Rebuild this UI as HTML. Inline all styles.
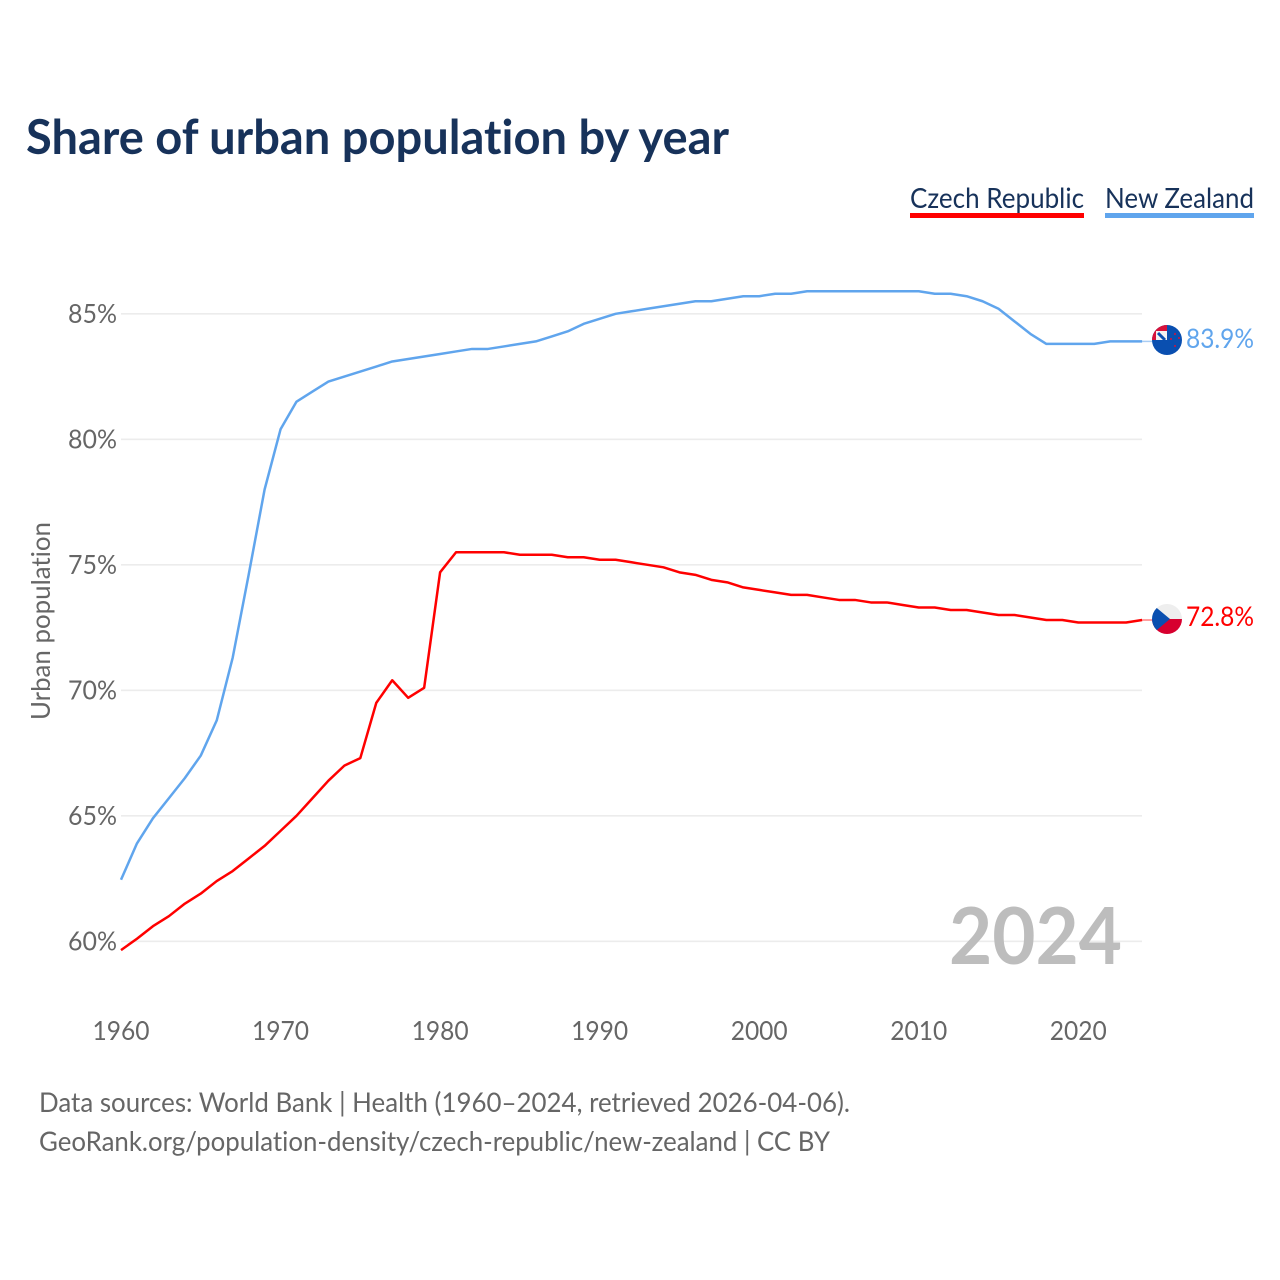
<!DOCTYPE html>
<html lang="en">
<head>
<meta charset="utf-8">
<title>Share of urban population by year</title>
<style>
html,body{margin:0;padding:0;background:#fff;width:1280px;height:1280px;overflow:hidden}
svg{display:block}
text{font-family:"Lato","Carlito","Liberation Sans",sans-serif;font-variant-ligatures:none;font-feature-settings:"liga" 0,"clig" 0}
</style>
</head>
<body>
<svg id="chart" xmlns="http://www.w3.org/2000/svg" width="1280" height="1280" viewBox="0 0 1280 1280">
  <defs>
    <clipPath id="flag-clip-nz"><circle cx="1167" cy="340" r="15"/></clipPath>
    <clipPath id="flag-clip-cz"><circle cx="1167" cy="619" r="15"/></clipPath>
  </defs>
  <rect width="1280" height="1280" fill="#fff"/>
  <text x="26" y="154" font-size="47.5" font-weight="700" fill="#17325a" textLength="703" lengthAdjust="spacingAndGlyphs">Share of urban population by year</text>

  <g>
    <text x="910" y="208" font-size="28" fill="#17325a" textLength="174" lengthAdjust="spacingAndGlyphs">Czech Republic</text>
    <rect x="910" y="213" width="174" height="5" fill="#ff0000"/>
  </g>
  <g>
    <text x="1105" y="208" font-size="28" fill="#17325a" textLength="149" lengthAdjust="spacingAndGlyphs">New Zealand</text>
    <rect x="1105" y="213" width="149" height="5" fill="#60a5ed"/>
  </g>

  <g id="grid"></g>
  <g id="y-ticks"></g>
  <g id="x-ticks"></g>
  <text transform="translate(50,621) rotate(-90)" text-anchor="middle" font-size="26" fill="#666" textLength="198" lengthAdjust="spacingAndGlyphs">Urban population</text>

  <text x="949" y="964" font-size="78.5" font-weight="700" fill="#bdbdbd" textLength="173" lengthAdjust="spacingAndGlyphs">2024</text>

  <g id="series"></g>

  <g clip-path="url(#flag-clip-nz)">
    <rect x="1152" y="325" width="30" height="30" fill="#0a4fb0"/>
    <rect x="1152" y="325" width="15" height="15" fill="#d8123a"/>
    <rect x="1156" y="331" width="11" height="9" fill="#f2f2f2"/>
    <path d="M1158 333 L1165 340" stroke="#0a4fb0" stroke-width="3"/>
    <circle cx="1171" cy="339" r="1" fill="#d8123a"/>
    <circle cx="1175" cy="334" r="1" fill="#d8123a"/>
    <circle cx="1179" cy="338" r="1" fill="#d8123a"/>
    <circle cx="1175" cy="346" r="1" fill="#d8123a"/>
  </g>
  <g clip-path="url(#flag-clip-cz)">
    <rect x="1152" y="604" width="30" height="15" fill="#eeeeee"/>
    <rect x="1152" y="619" width="30" height="15" fill="#d7002f"/>
    <path d="M1152 604 L1170 619 L1152 634 Z" fill="#0a4fb0"/>
  </g>

  <text id="label-nz" x="1186" y="348" font-size="27" fill="#60a5ed" textLength="68" lengthAdjust="spacingAndGlyphs"></text>
  <text id="label-cz" x="1186" y="626" font-size="27" fill="#ff0000" textLength="68" lengthAdjust="spacingAndGlyphs"></text>

  <text x="39" y="1112" font-size="27" fill="#666" textLength="811" lengthAdjust="spacingAndGlyphs">Data sources: World Bank | Health (1960–2024, retrieved 2026-04-06).</text>
  <text x="39" y="1151" font-size="27" fill="#666" textLength="791" lengthAdjust="spacingAndGlyphs">GeoRank.org/population-density/czech-republic/new-zealand | CC BY</text>
</svg>
<script>
const startYear = 1960;
const yTicks = [60, 65, 70, 75, 80, 85];
const xTicks = [1960, 1970, 1980, 1990, 2000, 2010, 2020];
const newZealand = [62.45,63.9,64.9,65.7,66.5,67.4,68.8,71.3,74.6,78.0,80.4,81.5,81.9,82.3,82.5,82.7,82.9,83.1,83.2,83.3,83.4,83.5,83.6,83.6,83.7,83.8,83.9,84.1,84.3,84.6,84.8,85.0,85.1,85.2,85.3,85.4,85.5,85.5,85.6,85.7,85.7,85.8,85.8,85.9,85.9,85.9,85.9,85.9,85.9,85.9,85.9,85.8,85.8,85.7,85.5,85.2,84.7,84.2,83.8,83.8,83.8,83.8,83.9,83.9,83.9];
const czechRepublic = [59.65,60.1,60.6,61.0,61.5,61.9,62.4,62.8,63.3,63.8,64.4,65.0,65.7,66.4,67.0,67.3,69.5,70.4,69.7,70.1,74.7,75.5,75.5,75.5,75.5,75.4,75.4,75.4,75.3,75.3,75.2,75.2,75.1,75.0,74.9,74.7,74.6,74.4,74.3,74.1,74.0,73.9,73.8,73.8,73.7,73.6,73.6,73.5,73.5,73.4,73.3,73.3,73.2,73.2,73.1,73.0,73.0,72.9,72.8,72.8,72.7,72.7,72.7,72.7,72.8];

const NS = 'http://www.w3.org/2000/svg';
const xScale = function (year) { return 121 + (year - 1960) * 15.955; };
const yScale = function (v) { return 941.3 - (v - 60) * 25.1; };
const svgEl = function (tag, attrs) {
  const el = document.createElementNS(NS, tag);
  for (const k in attrs) el.setAttribute(k, attrs[k]);
  return el;
};

const grid = document.getElementById('grid');
const yTickGroup = document.getElementById('y-ticks');
yTicks.forEach(function (t) {
  const line = svgEl('line', {x1: 121, x2: 1142, y1: yScale(t), y2: yScale(t), stroke: '#ececec', 'stroke-width': 1.6});
  
  
  grid.appendChild(line);
  const label = svgEl('text', {x: 117, y: yScale(t) + 9, 'text-anchor': 'end', 'font-size': 26.5, fill: '#666', textLength: 49, lengthAdjust: 'spacingAndGlyphs'});
  
  
  label.textContent = t + '%';
  yTickGroup.appendChild(label);
});

const xTickGroup = document.getElementById('x-ticks');
xTicks.forEach(function (t) {
  const label = svgEl('text', {x: xScale(t), y: 1040, 'text-anchor': 'middle', 'font-size': 26.5, fill: '#666', textLength: 57, lengthAdjust: 'spacingAndGlyphs'});
  
  
  label.textContent = t;
  xTickGroup.appendChild(label);
});

const seriesGroup = document.getElementById('series');
const drawSeries = function (values, color, connector) {
  const pts = values.map(function (v, i) { return xScale(startYear + i).toFixed(2) + ',' + yScale(v).toFixed(2); });
  const lastY = yScale(values[values.length - 1]);
  const lastX = xScale(startYear + values.length - 1);
  const tail = svgEl('line', {x1: lastX, x2: lastX + 11, y1: lastY, y2: lastY, stroke: connector, 'stroke-width': 1.5});
  
  
  seriesGroup.appendChild(tail);
  const line = svgEl('polyline', {points: pts.join(' '), fill: 'none', stroke: color, 'stroke-width': 2.5, 'stroke-linejoin': 'round'});
  
  
  seriesGroup.appendChild(line);
};
drawSeries(newZealand, '#60a5ed', '#a9cdf4');
drawSeries(czechRepublic, '#ff0000', '#ff8080');

document.getElementById('label-nz').textContent = newZealand[newZealand.length - 1].toFixed(1) + '%';
document.getElementById('label-cz').textContent = czechRepublic[czechRepublic.length - 1].toFixed(1) + '%';
</script>
</body>
</html>
